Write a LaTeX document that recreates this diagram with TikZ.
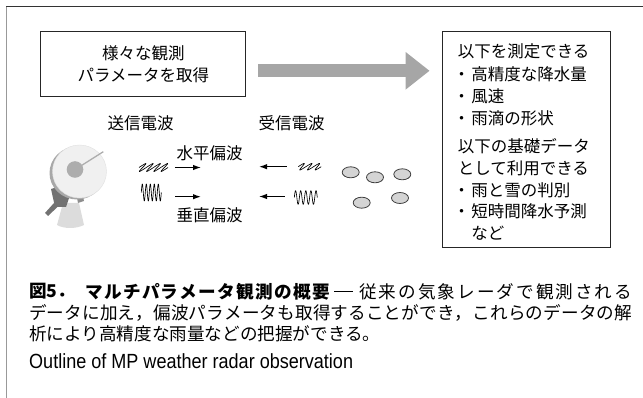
\documentclass[tikz,border=0pt]{standalone}
\usepackage{fontspec}
\setmainfont{Noto Sans CJK JP}
\newfontfamily\latinfont[FakeStretch=0.88]{Liberation Sans}
\usetikzlibrary{arrows.meta,positioning,shapes.geometric}
\definecolor{arrowgrey}{HTML}{A6A6A6}
\definecolor{dropgrey}{HTML}{D4D4D4}
\definecolor{dishface}{HTML}{F0F0F0}
\definecolor{dishrim}{HTML}{A8A8A8}
\definecolor{mountgrey}{HTML}{727272}
\definecolor{basegrey}{HTML}{DCDCDC}

\newcommand\capsize{\fontsize{17.6}{23}\selectfont}
\newcommand\listdot{\makebox[13.5pt][l]{\hspace{-4.5pt}・}}
% spread the characters of one line over a given width
\ExplSyntaxOn
\NewDocumentCommand \spreadline { m m }
  { \makebox [ #1 ] [ s ] { \tl_map_inline:nn { #2 } { ##1 \hfil } \unskip } }
\ExplSyntaxOff

\begin{document}
\begin{tikzpicture}[x=1pt, y=-1pt,
    every node/.style={inner sep=0pt, font=\fontsize{16.5}{21.7}\selectfont},
    box/.style={draw=black!85, line width=0.8pt},
    sig/.style={-{Latex[length=8pt,width=5.5pt]}, line width=1.2pt},
    wave/.style={line width=0.65pt, line join=round},
    drop/.style={ellipse, draw=black!75, fill=dropgrey, line width=0.8pt,
                 minimum width=17pt, minimum height=11pt},
    captext/.style={anchor=west, font=\capsize}]
  \useasboundingbox (0,0) rectangle (643,398);
  % frame
  \draw[black!80, line width=0.8pt] (6,6.7) -- (643,6.7);
  \draw[black!40, line width=1pt] (6.3,6.7) -- (6.3,398);

  % boxes
  \node[box, minimum width=205pt, minimum height=65pt, align=center] (obs) at (143.3,64.2)
        {様々な観測\\パラメータを取得};
  \node[box, minimum width=168pt, minimum height=216pt] (res) at (526,139) {};
  \node[anchor=north west, align=left] (list) at ([xshift=16pt,yshift=-12.8pt]res.north west)
        {以下を測定できる\\[1.5pt]
         \listdot 高精度な降水量\\
         \listdot 風速\\
         \listdot 雨滴の形状\\[7pt]
         以下の基礎データ\\
         として利用できる\\
         \listdot 雨と雪の判別\\
         \listdot 短時間降水予測\\
         \hspace*{13.5pt}など};
  \draw[arrowgrey, line width=13pt, -{Triangle[length=24pt,width=36pt]}]
        ([xshift=12pt,yshift=-6.6pt]obs.east) -- ([xshift=-12pt,yshift=-6.6pt]obs.east -| res.west);

  % radar
  \fill[basegrey] (63,203) -- (79,203) -- (84,225) .. controls (76,229) and (64,229) .. (57,225) -- cycle;
  \fill[mountgrey] (51,189) -- (64,185) -- (69,198) -- (66,207) -- (55,207) -- cycle;
  \fill[mountgrey] (54,203) -- (58,206.5) -- (48,216) -- (45,213) -- cycle;
  \fill[mountgrey!80] (76,193) -- (82,192) -- (84,201) -- (78,203) -- cycle;
  \fill[dishrim] (77,173) ellipse [x radius=27.5, y radius=26.5];
  \filldraw[fill=dishface, draw=black!12] (79.5,171.5) ellipse [x radius=27, y radius=26.5];
  \draw[black!32, line width=1.3pt] (76,169) -- (103.3,151.7);
  \fill[black!32] (75,169.5) circle [radius=8.3];

  % labels
  \node (tx) at (140.5,123.3) {送信電波};
  \node (rx) at (291.5,123.3) {受信電波};
  \node (hpol) at (209.5,153.3) {水平偏波};
  \node (vpol) at (209.5,215) {垂直偏波};

  % waves, sent
  \node[minimum width=39pt, minimum height=10pt] (htx) at (153.5,167.5) {};
  \draw[wave, shift={(htx.center)}] plot[domain=0:1440, samples=200]
        ({-14.5+\x/1440*29+5*sin(\x)}, {-4*sin(\x)});
  \node[minimum width=20pt, minimum height=26pt] (vtx) at (151.3,196.7) {};
  \draw[wave, shift={(vtx.center)}] plot[domain=0:1800, samples=200]
        ({-10+\x/1800*20}, {-4.2-8.5*sin(\x)});
  % waves, received
  \node[minimum width=31pt, minimum height=8pt] (hrx) at (309.7,166.7) {};
  \draw[wave, shift={(hrx.center)}] plot[domain=0:1080, samples=150]
        ({-11.5+\x/1080*23+4*sin(\x)}, {-3.3*sin(\x)});
  \node[minimum width=23pt, minimum height=15pt] (vrx) at (305.8,196.5) {};
  \draw[wave, shift={(vrx.center)}] plot[domain=0:1620, samples=180]
        ({-11.5+\x/1620*23}, {1-6.8*sin(\x)});

  \coordinate (htip) at (201,167.5);
  \coordinate (vtip) at (201,196.7);
  \coordinate (hend) at (259,166.7);
  \coordinate (vend) at (259,196.5);
  \draw[sig] ([xshift=1.7pt]htx.east) -- (htip);
  \draw[sig] ([xshift=13.5pt]vtx.east) -- (vtip);
  \draw[sig] ([xshift=-7.5pt]hrx.west) -- (hend);
  \draw[sig] ([xshift=-9.3pt]vrx.west) -- (vend);

  % raindrops
  \foreach \p [count=\i] in {(350.7,172.3),(375,177.3),(402.3,174.3),(361.7,202.7),(400,198)}
    \node[drop] (d\i) at \p {};

  % caption
  \node[captext, font=\capsize\bfseries] (fig) at (29,291.5) {図5．};
  \node[captext, font=\capsize\bfseries] (title) at (85,291.5) {\spreadline{245pt}{マルチパラメータ観測の概要}};
  \node[captext] (dash) at (334,291.5) {\rule{19pt}{0.8pt}};
  \node[captext] (cap1) at (359,291.5) {\spreadline{273pt}{従来の気象レーダで観測される}};
  \node[captext] (cap2) at (29,313)
        {\spreadline{603pt}{データに加え，偏波パラメータも取得することができ，これらのデータの解}};
  \node[captext] (cap3) at (29,333.5) {析により高精度な雨量などの把握ができる。};
  \node[anchor=west, font=\latinfont\fontsize{20.5}{24}\selectfont] (en) at (29,361.5)
        {Outline of MP weather radar observation};
\end{tikzpicture}
\end{document}
